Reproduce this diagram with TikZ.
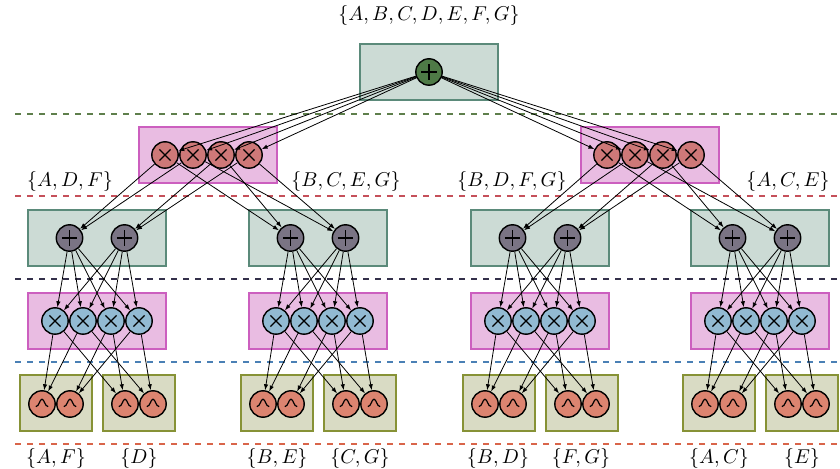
\documentclass[tikz,border=0pt]{standalone}
\usepackage{amsmath,amssymb}
\usepackage{xcolor}
\usepackage{tikz}
\usetikzlibrary{arrows.meta}

\definecolor{sumbox}{HTML}{CCDBD5}
\definecolor{sumedge}{HTML}{5B8A7A}
\definecolor{prodbox}{HTML}{E9BCE2}
\definecolor{prodedge}{HTML}{CC5FBF}
\definecolor{leafbox}{HTML}{D9DBC4}
\definecolor{leafedge}{HTML}{879236}
\definecolor{rootsum}{HTML}{4E7A46}
\definecolor{prodred}{HTML}{CE7878}
\definecolor{sumgray}{HTML}{7A7484}
\definecolor{prodblue}{HTML}{92BAD2}
\definecolor{leafred}{HTML}{DC8470}
\definecolor{lgreen}{HTML}{5E7F4C}
\definecolor{lred}{HTML}{C5505A}
\definecolor{ldark}{HTML}{34304A}
\definecolor{lblue}{HTML}{4A80B5}
\definecolor{lorange}{HTML}{D9654A}

\tikzset{
  spnode/.style={circle, draw=black, line width=0.7pt, minimum size=13.2pt, inner sep=0pt},
  plusnode/.style={spnode, fill=#1, path picture={
      \draw[line width=0.6pt, shift={(path picture bounding box.center)}]
        (-3.8pt,0pt) -- (3.8pt,0pt) (0pt,-3.8pt) -- (0pt,3.8pt);}},
  timesnode/.style={spnode, fill=#1, path picture={
      \draw[line width=0.6pt, shift={(path picture bounding box.center)}]
        (-2.8pt,-2.8pt) -- (2.8pt,2.8pt) (-2.8pt,2.8pt) -- (2.8pt,-2.8pt);}},
  leafnode/.style={spnode, fill=leafred, path picture={
      \draw[line width=0.6pt, shift={(path picture bounding box.center)}]
        (-3.1pt,-1.3pt) .. controls (-1.4pt,-1.3pt) and (-1.2pt,2.4pt) .. (0pt,2.4pt)
        .. controls (1.2pt,2.4pt) and (1.4pt,-1.3pt) .. (3.1pt,-1.3pt);}},
  sumframe/.style={fill=sumbox, draw=sumedge, line width=1pt},
  prodframe/.style={fill=prodbox, draw=prodedge, line width=1pt},
  leafframe/.style={fill=leafbox, draw=leafedge, line width=1pt},
  wire/.style={-{Latex[length=3pt,width=2.2pt]}, line width=0.4pt},
  layer/.style={dashed, line width=1pt, draw=#1},
}

\begin{document}
\begin{tikzpicture}[x=0.5pt,y=-0.5pt]
  \useasboundingbox (0,0) rectangle (840,469);

  % separators between the layers
  \draw[layer=lgreen] (15,114) -- (840,114);
  \draw[layer=lred] (15,196) -- (840,196);
  \draw[layer=ldark] (15,279) -- (840,279);
  \draw[layer=lblue] (15,362) -- (840,362);
  \draw[layer=lorange] (15,444) -- (840,444);

  % root sum
  \draw[sumframe] (360,44) rectangle (498,100);
  \node[plusnode=rootsum] (root) at (429,72) {};
  \node (vroot) at (429,16) {$\{A,B,C,D,E,F,G\}$};

  % first product layer
  \draw[prodframe] (139,127) rectangle (277,183);
  \draw[prodframe] (581,127) rectangle (719,183);
  \foreach \i in {1,...,4} {
    \node[timesnode=prodred] (pa\i) at (137+28*\i,155) {};
    \node[timesnode=prodred] (pb\i) at (579+28*\i,155) {};
  }
  \node (va1) at (70,182) {$\{A,D,F\}$};
  \node (va2) at (346,182) {$\{B,C,E,G\}$};
  \node (vb1) at (512,182) {$\{B,D,F,G\}$};
  \node (vb2) at (788,182) {$\{A,C,E\}$};

  % sums, second products and leaves, one block per scope
  \foreach \g/\cx in {1/97,2/318,3/540,4/760} {
    \draw[sumframe] (\cx-69,210) rectangle (\cx+69,266);
    \node[plusnode=sumgray] (s\g1) at (\cx-27.5,238) {};
    \node[plusnode=sumgray] (s\g2) at (\cx+27.5,238) {};
    \draw[prodframe] (\cx-69,293) rectangle (\cx+69,349);
    \foreach \i in {1,...,4}
      \node[timesnode=prodblue] (q\g\i) at (\cx-70+28*\i,321) {};
    \draw[leafframe] (\cx-77,375) rectangle (\cx-5,431);
    \draw[leafframe] (\cx+6,375) rectangle (\cx+78,431);
    \node[leafnode] (l\g1) at (\cx-55,404) {};
    \node[leafnode] (l\g2) at (\cx-27,404) {};
    \node[leafnode] (l\g3) at (\cx+28,404) {};
    \node[leafnode] (l\g4) at (\cx+56,404) {};
  }
  \node (w11) at (56,459) {$\{A,F\}$};
  \node (w12) at (139,459) {$\{D\}$};
  \node (w21) at (277,459) {$\{B,E\}$};
  \node (w22) at (360,459) {$\{C,G\}$};
  \node (w31) at (498,459) {$\{B,D\}$};
  \node (w32) at (581,459) {$\{F,G\}$};
  \node (w41) at (719,459) {$\{A,C\}$};
  \node (w42) at (802,459) {$\{E\}$};

  % edges
  \foreach \i in {1,...,4} {
    \draw[wire] (root) -- (pa\i);
    \draw[wire] (root) -- (pb\i);
  }
  \foreach \i/\a/\b in {1/1/1,2/1/2,3/2/1,4/2/2} {
    \draw[wire] (pa\i) -- (s1\a);
    \draw[wire] (pa\i) -- (s2\b);
    \draw[wire] (pb\i) -- (s3\a);
    \draw[wire] (pb\i) -- (s4\b);
  }
  \foreach \g in {1,...,4} {
    \foreach \k in {1,2}
      \foreach \i in {1,...,4}
        \draw[wire] (s\g\k) -- (q\g\i);
    \foreach \i/\a/\b in {1/1/3,2/1/4,3/2/3,4/2/4} {
      \draw[wire] (q\g\i) -- (l\g\a);
      \draw[wire] (q\g\i) -- (l\g\b);
    }
  }
\end{tikzpicture}
\end{document}
